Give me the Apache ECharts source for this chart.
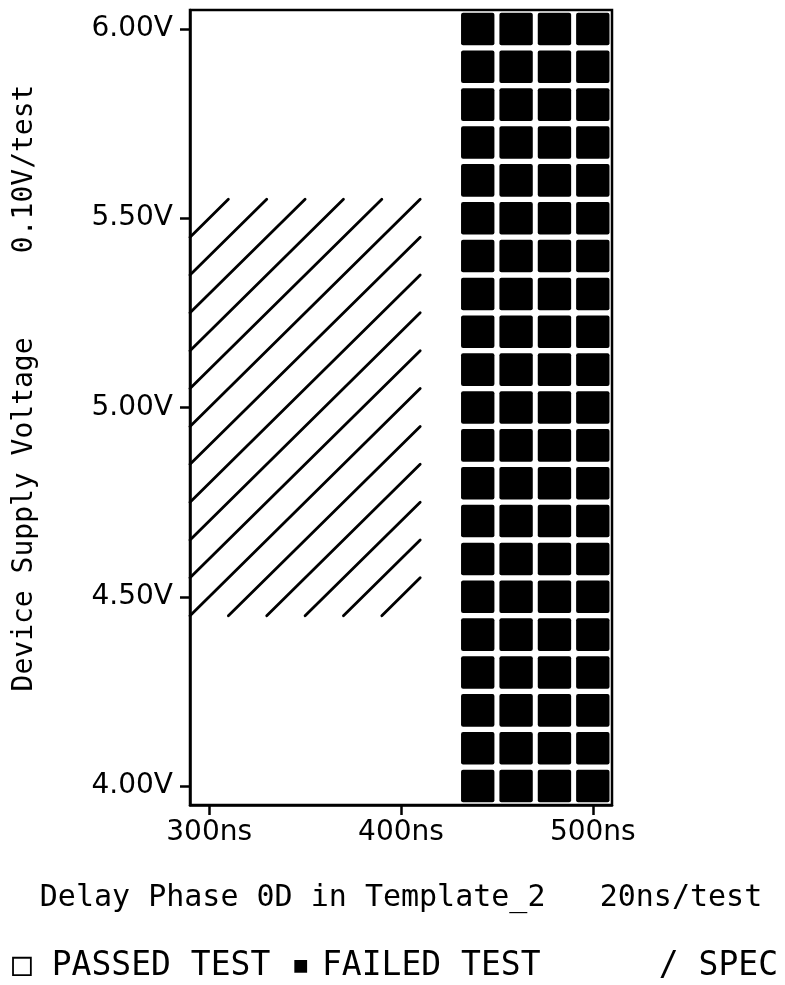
<!DOCTYPE html>
<html>
<head>
<meta charset="utf-8">
<script src="https://cdn.jsdelivr.net/npm/echarts@6/dist/echarts.min.js"></script>
<style>
  html, body { margin: 0; padding: 0; background: #fff; }
  #chart { width: 785px; height: 985px; }
</style>
</head>
<body>
<div id="chart"></div>
<script>
// Shmoo plot: device supply voltage vs. delay of phase 0D
const delayTicks = [300, 400, 500];
const voltageTicks = [4.0, 4.5, 5.0, 5.5, 6.0];
const delayStep = 20;      // ns per test
const voltageStep = 0.1;   // V per test
const delayRange = [290, 510];
const voltageRange = [3.95, 6.05];

// Delays at which every voltage failed
const failedDelays = [440, 460, 480, 500];
const voltages = [4.0, 4.1, 4.2, 4.3, 4.4, 4.5, 4.6, 4.7, 4.8, 4.9, 5.0,
                  5.1, 5.2, 5.3, 5.4, 5.5, 5.6, 5.7, 5.8, 5.9, 6.0];

// Specification window (delay, voltage)
const specDelay = [300, 400];
const specVoltage = [4.5, 5.5];

const failedCells = [];
failedDelays.forEach(d => voltages.forEach(v => failedCells.push([d, v])));

function renderCell(params, api) {
  const c = api.coord([api.value(0), api.value(1)]);
  const s = api.size([delayStep, voltageStep]);
  const w = s[0] * 0.87, h = s[1] * 0.86;
  return {
    type: 'rect',
    shape: { x: c[0] - w / 2, y: c[1] - h / 2, width: w, height: h, r: 2 },
    style: { fill: '#000' }
  };
}

// Diagonal hatching across the spec window, one stroke per test step
function renderSpec(params, api) {
  const x0 = api.value(0) - delayStep / 2, x1 = api.value(1) + delayStep / 2;
  const y0 = api.value(2) - voltageStep / 2, y1 = api.value(3) + voltageStep / 2;
  const W = Math.round((x1 - x0) / delayStep);
  const H = Math.round((y1 - y0) / voltageStep);
  const children = [];
  for (let j = 1 - W; j <= H - 1; j++) {
    const u0 = Math.max(0, -j), u1 = Math.min(W, H - j);
    const p0 = api.coord([x0 + u0 * delayStep, y0 + (u0 + j) * voltageStep]);
    const p1 = api.coord([x0 + u1 * delayStep, y0 + (u1 + j) * voltageStep]);
    children.push({
      type: 'line',
      shape: { x1: p0[0], y1: p0[1], x2: p1[0], y2: p1[1] },
      style: { stroke: '#000', lineWidth: 2.8, lineCap: 'round' }
    });
  }
  return { type: 'group', children };
}

const tickFont = { fontFamily: 'DejaVu Sans', fontSize: 28, color: '#000' };
const titleFont = 'DejaVu Sans Mono';
const legendStyle = { fontFamily: titleFont, fontSize: 33, fill: '#000', verticalAlign: 'middle' };

const chart = echarts.init(document.getElementById('chart'), null, { renderer: 'canvas' });
chart.setOption({
  backgroundColor: '#fff',
  animation: false,
  grid: {
    left: 190, right: 173, top: 10, bottom: 180,
    show: true, borderColor: '#000', borderWidth: 2.5, backgroundColor: 'transparent'
  },
  xAxis: {
    type: 'value',
    min: delayRange[0], max: delayRange[1],
    name: 'Delay Phase 0D in Template_2   20ns/test',
    nameLocation: 'middle', nameGap: 78,
    nameTextStyle: { fontFamily: titleFont, fontSize: 30, color: '#000' },
    axisLine: { show: true, lineStyle: { color: '#000', width: 2.5 } },
    axisTick: { show: true, length: 10, lineStyle: { color: '#000', width: 2.5 }, customValues: delayTicks },
    axisLabel: Object.assign({ margin: 14, customValues: delayTicks, formatter: v => v + 'ns' }, tickFont),
    splitLine: { show: false }
  },
  yAxis: {
    type: 'value',
    min: voltageRange[0], max: voltageRange[1],
    axisLine: { show: true, lineStyle: { color: '#000', width: 2.5 } },
    axisTick: { show: true, length: 10, lineStyle: { color: '#000', width: 2.5 }, customValues: voltageTicks },
    axisLabel: Object.assign({ margin: 17, customValues: voltageTicks, formatter: v => v.toFixed(2) + 'V' }, tickFont),
    splitLine: { show: false }
  },
  graphic: [
    {
      type: 'text', x: 25, y: 388, rotation: Math.PI / 2,
      style: { text: 'Device Supply Voltage     0.10V/test', fontFamily: titleFont, fontSize: 28,
               fill: '#000', align: 'center', verticalAlign: 'middle' }
    },
    { type: 'text', x: 12, y: 966, style: Object.assign({ text: '\u25A1 PASSED TEST', align: 'left' }, legendStyle) },
    { type: 'text', x: 291, y: 966, style: Object.assign({ text: '\u25AA', align: 'left' }, legendStyle) },
    { type: 'text', x: 322, y: 966, style: Object.assign({ text: 'FAILED TEST', align: 'left' }, legendStyle) },
    { type: 'text', x: 778, y: 966, style: Object.assign({ text: '/ SPEC', align: 'right' }, legendStyle) }
  ],
  series: [
    {
      type: 'custom',
      name: 'SPEC',
      renderItem: renderSpec,
      data: [[specDelay[0], specDelay[1], specVoltage[0], specVoltage[1]]],
      encode: { x: [0, 1], y: [2, 3] },
      silent: true
    },
    {
      type: 'custom',
      name: 'FAILED TEST',
      renderItem: renderCell,
      data: failedCells,
      encode: { x: 0, y: 1 },
      silent: true
    }
  ]
});
</script>
</body>
</html>
